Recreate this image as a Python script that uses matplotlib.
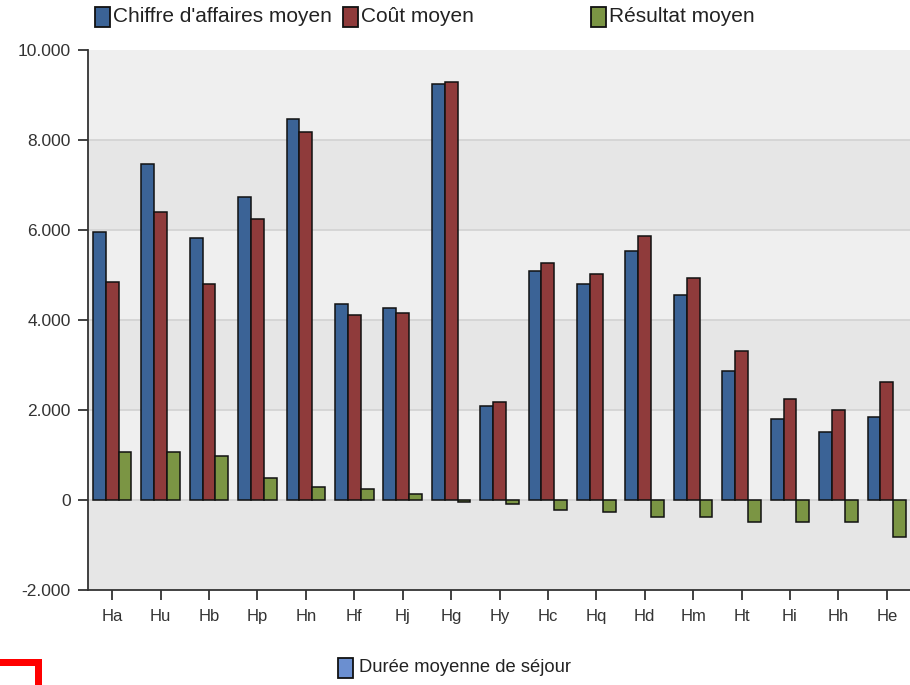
import matplotlib
matplotlib.use("Agg")
import matplotlib.pyplot as plt
from matplotlib.patches import Rectangle
import numpy as np

categories = ["Ha", "Hu", "Hb", "Hp", "Hn", "Hf", "Hj", "Hg", "Hy", "Hc", "Hq", "Hd", "Hm", "Ht", "Hi", "Hh", "He"]
chiffre = [5950, 7460, 5820, 6730, 8460, 4350, 4260, 9240, 2090, 5085, 4800, 5530, 4550, 2865, 1800, 1510, 1840]
cout = [4840, 6400, 4800, 6240, 8170, 4110, 4150, 9280, 2180, 5260, 5020, 5860, 4930, 3310, 2240, 2000, 2620]
resultat = [1065, 1065, 980, 490, 290, 245, 130, -40, -80, -230, -270, -380, -380, -490, -490, -490, -820]
series_names = ["Chiffre d'affaires moyen", "Coût moyen", "Résultat moyen"]
bottom_legend = "Durée moyenne de séjour"
yticks = [-2000, 0, 2000, 4000, 6000, 8000, 10000]
ytick_labels = ["-2.000", "0", "2.000", "4.000", "6.000", "8.000", "10.000"]

colors = ["#3b6396", "#8f3b3b", "#7b9544"]
FONT = "Liberation Sans"

W, H = 910, 685
fig = plt.figure(figsize=(W / 100, H / 100), dpi=100)
ax = fig.add_axes([88 / W, 1 - 590 / H, (911 - 88) / W, (590 - 49.7) / H])

ax.set_xlim(-0.5, len(categories) - 0.5)
ax.set_ylim(-2000, 10000)

# alternating bands
for i, (lo, hi) in enumerate(zip(yticks[:-1], yticks[1:])):
    ax.axhspan(lo, hi, color="#e6e6e6" if i % 2 == 0 else "#efefef", zorder=0, lw=0)
for t in yticks[1:-1]:
    ax.axhline(t, color="#d2d2d2", lw=1.2, zorder=0.5)

x = np.arange(len(categories))
bw = 0.265
for k, vals in enumerate([chiffre, cout, resultat]):
    ax.bar(x + (k - 1) * bw, vals, width=bw, color=colors[k], edgecolor="#111111", linewidth=1.1, zorder=2)

ax.set_xticks(x)
ax.set_xticklabels(categories, fontsize=12, color="#333333", family=FONT)
ax.set_yticks(yticks)
ax.set_yticklabels(ytick_labels, fontsize=12.5, color="#333333", family=FONT)
ax.tick_params(direction="out", length=7.5, width=1.3, color="#333333")
ax.tick_params(axis="y", pad=5)
ax.tick_params(axis="x", pad=6)
for s in ["top", "right"]:
    ax.spines[s].set_visible(False)
for s in ["left", "bottom"]:
    ax.spines[s].set_color("#333333")
    ax.spines[s].set_linewidth(1.3)

# top legend
lx = [95, 343, 591]
for k in range(3):
    fig.patches.append(Rectangle((lx[k] / W, 1 - 27 / H), 15 / W, 20 / H, transform=fig.transFigure,
                                 facecolor=colors[k], edgecolor="#111111", lw=1.3))
    fig.text((lx[k] + 18) / W, 1 - 17 / H, series_names[k], fontsize=15, va="center", ha="left",
             color="#222222", family=FONT)

# bottom legend
fig.patches.append(Rectangle((338 / W, 1 - 678 / H), 15 / W, 20 / H, transform=fig.transFigure,
                             facecolor="#6b8fd0", edgecolor="#111111", lw=1.3))
fig.text(359 / W, 1 - 668 / H, bottom_legend, fontsize=13.2, va="center", ha="left",
         color="#222222", family=FONT)

# red corner mark
fig.patches.append(Rectangle((0, 1 - 666 / H), 42 / W, 7 / H, transform=fig.transFigure, facecolor="#ff0000", lw=0))
fig.patches.append(Rectangle((35 / W, 0), 7 / W, (685 - 659) / H, transform=fig.transFigure, facecolor="#ff0000", lw=0))

fig.savefig("out.png", dpi=100)
